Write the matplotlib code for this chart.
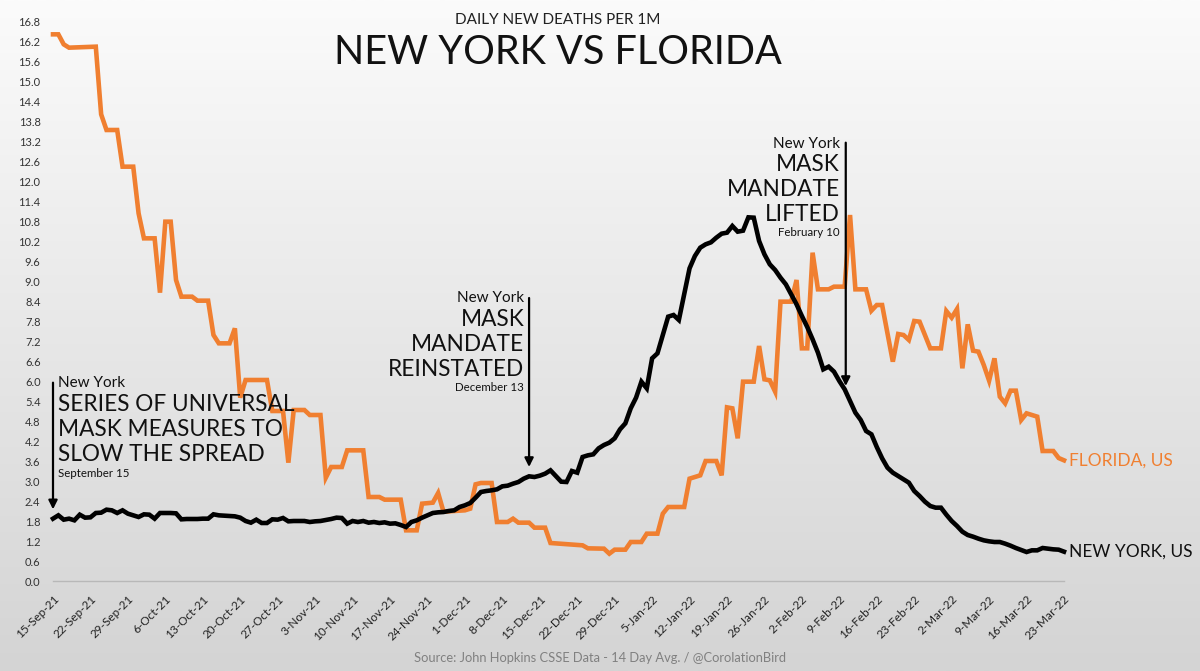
import numpy as np
import pandas as pd
import matplotlib
matplotlib.use("Agg")
import matplotlib.pyplot as plt

plt.rcParams['font.family'] = ['Lato', 'DejaVu Sans']

# ---------------- data ----------------
start_date = "2021-09-15"

fl_days = [0, 1, 2, 3, 8, 9, 10, 12, 13, 15, 16, 17, 19, 20, 21, 22, 23, 24, 26, 27, 29,
           30, 31, 33, 34, 35, 36, 40, 41, 43, 44, 45, 47, 48, 50, 51, 52, 54, 55, 58,
           59, 61, 62, 65, 66, 68, 69, 71, 72, 73, 77, 78, 79, 80, 82, 83, 85, 86, 87,
           89, 90, 92, 93, 99, 100, 103, 104, 105, 107, 108, 110, 111, 113, 114, 115,
           118, 119, 120, 121, 122, 124, 125, 126, 127, 128, 129, 131, 132, 133, 134,
           135, 136, 138, 139, 140, 141, 142, 143, 145, 146, 148, 149, 150, 152, 153,
           154, 155, 157, 158, 159, 160, 161, 162, 164, 166, 167, 168, 169, 170, 171,
           172, 173, 174, 175, 176, 177, 178, 179, 180, 181, 182, 184, 185, 187, 188, 189]
fl_vals = [16.4, 16.4, 16.1, 16.0, 16.03, 14.0, 13.53, 13.53, 12.43, 12.43, 11.03, 10.28,
           10.28, 8.65, 10.78, 10.78, 9.03, 8.53, 8.53, 8.41, 8.41,
           7.38, 7.13, 7.13, 7.58, 5.5, 6.03, 6.03, 5.1, 5.1, 3.55, 5.13, 5.13, 4.98, 4.98,
           3.1, 3.42, 3.42, 3.92, 3.92,
           2.52, 2.52, 2.44, 2.44, 1.52, 1.52, 2.32, 2.35, 2.64, 2.08, 2.12, 2.17, 2.9,
           2.94, 2.94, 1.77, 1.77, 1.87, 1.75,
           1.75, 1.6, 1.6, 1.14, 1.07, 0.98, 0.97, 0.82, 0.94, 0.94, 1.17, 1.17, 1.42,
           1.42, 2.02, 2.22,
           2.22, 3.07, 3.12, 3.17, 3.6, 3.6, 3.17, 5.21, 5.18, 4.28, 5.98, 5.98, 7.05,
           6.05, 6.02,
           5.68, 8.38, 8.38, 9.03, 6.98, 6.98, 9.85, 8.75, 8.75, 8.83, 8.83, 10.98, 8.75,
           8.75, 8.11,
           8.28, 8.28, 6.58, 7.41, 7.38, 7.23, 7.8, 7.78, 6.98, 6.98, 8.1, 7.9, 8.16,
           6.38, 7.7,
           6.91, 6.88, 6.48, 6.01, 6.68, 5.53, 5.33, 5.71, 5.71, 4.83, 5.03, 4.93, 3.9,
           3.9, 3.69, 3.62]

ny_vals = [1.87, 1.97, 1.84, 1.87, 1.82, 1.99, 1.9, 1.91, 2.04, 2.05,
           2.14, 2.12, 2.04, 2.12, 2.02, 1.97, 1.92, 2.0, 1.99, 1.87,
           2.04, 2.04, 2.04, 2.03, 1.85, 1.86, 1.86, 1.86, 1.87, 1.87,
           2.0, 1.97, 1.96, 1.95, 1.94, 1.9, 1.8, 1.75, 1.84, 1.74,
           1.74, 1.85, 1.84, 1.89, 1.79, 1.8, 1.8, 1.8, 1.77, 1.79,
           1.8, 1.83, 1.86, 1.9, 1.89, 1.72, 1.8, 1.77, 1.8, 1.75,
           1.77, 1.74, 1.76, 1.72, 1.73, 1.68, 1.62, 1.77, 1.82, 1.9,
           1.97, 2.04, 2.06, 2.07, 2.1, 2.12, 2.22, 2.27, 2.34, 2.5,
           2.67, 2.7, 2.72, 2.75, 2.84, 2.86, 2.92, 2.97, 3.07, 3.14,
           3.12, 3.16, 3.22, 3.32, 3.15, 2.98, 2.97, 3.3, 3.25, 3.72,
           3.77, 3.8, 3.98, 4.08, 4.15, 4.28, 4.55, 4.73, 5.18, 5.5,
           5.98, 5.78, 6.68, 6.83, 7.38, 7.93, 7.98, 7.83, 8.6, 9.38,
           9.75, 10.0, 10.1, 10.16, 10.3, 10.42, 10.45, 10.65, 10.48, 10.51,
           10.91, 10.9, 10.2, 9.8, 9.5, 9.33, 9.1, 8.9, 8.6, 8.3,
           7.95, 7.62, 7.25, 6.85, 6.35, 6.43, 6.28, 6.0, 5.75, 5.4,
           5.05, 4.83, 4.5, 4.4, 4.02, 3.68, 3.4, 3.25, 3.15, 3.05,
           2.95, 2.7, 2.55, 2.38, 2.25, 2.2, 2.2, 1.99, 1.8, 1.65,
           1.48, 1.38, 1.33, 1.27, 1.22, 1.19, 1.17, 1.17, 1.12, 1.06,
           0.99, 0.93, 0.87, 0.92, 0.92, 0.99, 0.97, 0.95, 0.94, 0.88]

tick_labels = ["15-Sep-21", "22-Sep-21", "29-Sep-21", "6-Oct-21", "13-Oct-21", "20-Oct-21",
               "27-Oct-21", "3-Nov-21", "10-Nov-21", "17-Nov-21", "24-Nov-21", "1-Dec-21",
               "8-Dec-21", "15-Dec-21", "22-Dec-21", "29-Dec-21", "5-Jan-22", "12-Jan-22",
               "19-Jan-22", "26-Jan-22", "2-Feb-22", "9-Feb-22", "16-Feb-22", "23-Feb-22",
               "2-Mar-22", "9-Mar-22", "16-Mar-22", "23-Mar-22"]
y_ticks = [round(0.6 * i, 1) for i in range(29)]

# ---------------- figure ----------------
W, H = 1200, 671
fig = plt.figure(figsize=(W / 100, H / 100), dpi=100)

# background gradient
bg = fig.add_axes([0, 0, 1, 1], zorder=-10)
grad = np.linspace(0, 1, 256).reshape(-1, 1)
top = np.array([251, 251, 251]) / 255
bot = np.array([212, 212, 212]) / 255
img = top[None, None, :] * (1 - grad[:, :, None]) + bot[None, None, :] * grad[:, :, None]
bg.imshow(img, aspect='auto', extent=[0, 1, 0, 1], origin='upper')
bg.axis('off')

ax = fig.add_axes([53 / W, 1 - 581 / H, (1064 - 53) / W, (581 - 21) / H])
ax.patch.set_alpha(0)

t0 = pd.Timestamp(start_date)
ny_dates = t0 + pd.to_timedelta(np.arange(len(ny_vals)), unit='D')
fl_dates = t0 + pd.to_timedelta(np.array(fl_days), unit='D')

orange = '#F07F30'
ax.plot(fl_dates, fl_vals, color=orange, lw=3.3, solid_joinstyle='miter', clip_on=False, zorder=3)
ax.plot(ny_dates, ny_vals, color='black', lw=3.3, solid_joinstyle='miter', clip_on=False, zorder=4)

ax.set_ylim(0, 16.8)
ax.set_xlim(ny_dates[0], ny_dates[-1])
ax.set_yticks(y_ticks)
ax.set_yticklabels([f"{v:.1f}" for v in y_ticks], fontsize=8, color='#333333')
tick_pos = t0 + pd.to_timedelta(np.arange(len(tick_labels)) * 7, unit='D')
ax.set_xticks(tick_pos)
ax.set_xticklabels(tick_labels, rotation=45, ha='right', rotation_mode='anchor',
                   fontsize=8.5, color='#222222')
ax.tick_params(axis='both', length=0)
ax.tick_params(axis='y', pad=9)
ax.tick_params(axis='x', pad=9)
for s in ['top', 'right', 'left']:
    ax.spines[s].set_visible(False)
ax.spines['bottom'].set_color('#b8b8b8')
ax.spines['bottom'].set_linewidth(1)

def d(n):
    return t0 + pd.Timedelta(days=n)

arrow_kw = dict(arrowstyle='-|>', color='black', lw=1.6, mutation_scale=13,
                shrinkA=0, shrinkB=0)

# Annotation 1: September 15
ax.annotate('', xy=(d(0), 2.15), xytext=(d(0), 5.95), arrowprops=arrow_kw, zorder=6,
            annotation_clip=False)
ax.text(d(0.95), 5.81, "New York", fontsize=11, ha='left', va='baseline', color='#111111')
for txt, yv in [("SERIES OF UNIVERSAL", 5.10), ("MASK MEASURES TO", 4.35), ("SLOW THE SPREAD", 3.59)]:
    ax.text(d(0.85), yv, txt, fontsize=16.3, ha='left', va='baseline', color='#111111')
ax.text(d(0.95), 3.12, "September 15", fontsize=8.3, ha='left', va='baseline', color='#111111')

# Annotation 2: December 13
ax.annotate('', xy=(d(89), 3.42), xytext=(d(89), 8.49), arrowprops=arrow_kw, zorder=6)
ax.text(d(88.1), 8.38, "New York", fontsize=11, ha='right', va='baseline', color='#111111')
for txt, yv in [("MASK", 7.66), ("MANDATE", 6.91), ("REINSTATED", 6.15)]:
    ax.text(d(88.1), yv, txt, fontsize=16.3, ha='right', va='baseline', color='#111111')
ax.text(d(88.1), 5.71, "December 13", fontsize=8.3, ha='right', va='baseline', color='#111111')

# Annotation 3: February 10
ax.annotate('', xy=(d(148.2), 5.85), xytext=(d(148.2), 13.15), arrowprops=arrow_kw, zorder=6)
ax.text(d(147.1), 12.98, "New York", fontsize=11, ha='right', va='baseline', color='#111111')
for txt, yv in [("MASK", 12.31), ("MANDATE", 11.55), ("LIFTED", 10.81)]:
    ax.text(d(147.1), yv, txt, fontsize=16.3, ha='right', va='baseline', color='#111111')
ax.text(d(147.1), 10.36, "February 10", fontsize=8.3, ha='right', va='baseline', color='#111111')

# series labels
ax.text(d(190.0), 3.47, "FLORIDA, US", fontsize=12.5, color=orange, ha='left', va='baseline',
        clip_on=False)
ax.text(d(190.0), 0.72, "NEW YORK, US", fontsize=12.5, color='#111111', ha='left', va='baseline',
        clip_on=False)

# titles
fig.text(558 / W, 1 - 20 / H, "DAILY NEW DEATHS PER 1M", fontsize=11, ha='center', va='center',
         color='#222222')
fig.text(558 / W, 1 - 53 / H, "NEW YORK VS FLORIDA", fontsize=28.5, ha='center', va='center',
         color='#111111')
fig.text(600 / W, 1 - 658 / H, "Source: John Hopkins CSSE Data - 14 Day Avg. / @CorolationBird",
         fontsize=9.3, ha='center', va='center', color='#808080')

fig.savefig("out.png", dpi=100)
